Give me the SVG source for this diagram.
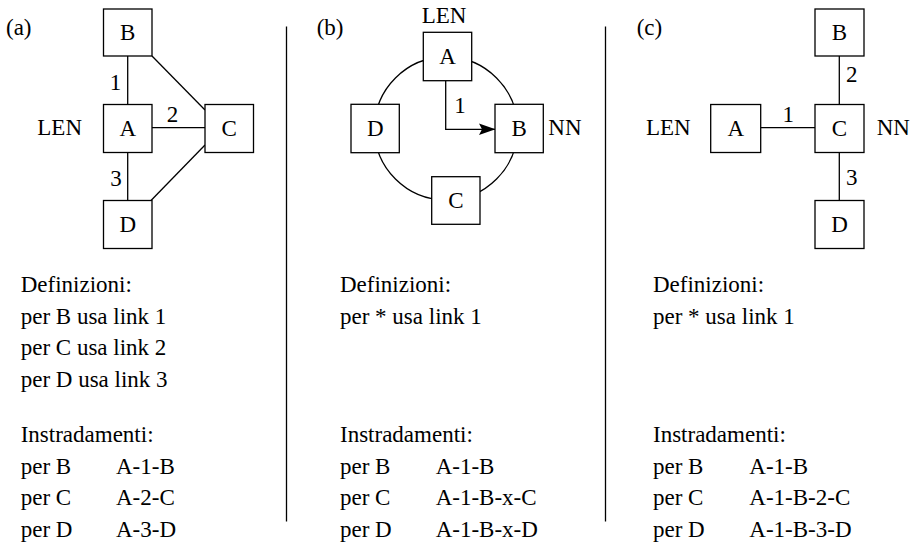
<svg xmlns="http://www.w3.org/2000/svg" width="917" height="543" viewBox="0 0 917 543">
<style>
text{font-family:"Liberation Serif","Times New Roman",serif;font-size:23px;fill:#000}
.c{text-anchor:middle}
.box{fill:#fff;stroke:#000;stroke-width:1.3}
.ln{fill:none;stroke:#000;stroke-width:1.3}
</style>
<defs>
<marker id="ah" markerWidth="18" markerHeight="12" refX="16" refY="6" orient="auto" markerUnits="userSpaceOnUse">
<path d="M0,0.3 L16.5,6 L0,11.7 L3,6 z" fill="#000"/>
</marker>
</defs>
<rect width="917" height="543" fill="#fff"/>
<g id="separators">
<line class="ln" x1="286.5" y1="26.5" x2="286.5" y2="521.5"/>
<line class="ln" x1="605.5" y1="26.5" x2="605.5" y2="521.5"/>
</g>
<!-- (a) -->
<g id="connectors-a">
<line class="ln" x1="127.7" y1="56" x2="127.7" y2="104.5"/>
<line class="ln" x1="127.7" y1="152.5" x2="127.7" y2="200.5"/>
<line class="ln" x1="152" y1="127.7" x2="205" y2="127.7"/>
<line class="ln" x1="152" y1="56" x2="205" y2="110"/>
<line class="ln" x1="205" y1="145" x2="151" y2="200.5"/>
<text class="c" x="115.5" y="90">1</text>
<text class="c" x="172.5" y="121.5">2</text>
<text class="c" x="116" y="186">3</text>
</g>
<text x="6" y="35">(a)</text>
<text x="37.3" y="135">LEN</text>
<g id="a-B"><rect class="box" x="103.5" y="9" width="48.5" height="47"/><text class="c" x="127.7" y="40">B</text></g>
<g id="a-A"><rect class="box" x="103.5" y="104.5" width="48.5" height="48"/><text class="c" x="127.7" y="136">A</text></g>
<g id="a-C"><rect class="box" x="205" y="104.5" width="48.5" height="48"/><text class="c" x="229.2" y="136">C</text></g>
<g id="a-D"><rect class="box" x="103.5" y="200.5" width="48.5" height="48"/><text class="c" x="127.7" y="232">D</text></g>
<g id="text-a">
<text x="20.7" y="292">Definizioni:</text>
<text x="20.7" y="323.5">per B usa link 1</text>
<text x="20.7" y="355">per C usa link 2</text>
<text x="20.7" y="386.5">per D usa link 3</text>
<text x="20.7" y="442">Instradamenti:</text>
<text x="20.7" y="473.5">per B</text><text x="116" y="473.5">A-1-B</text>
<text x="20.7" y="505">per C</text><text x="116" y="505">A-2-C</text>
<text x="20.7" y="536.5">per D</text><text x="116" y="536.5">A-3-D</text>
</g>
<!-- (b) -->
<g id="connectors-b">
<circle class="ln" cx="446" cy="128.5" r="71.5"/>
<path class="ln" d="M445.7,80.7 V129.3 H495" marker-end="url(#ah)"/>
<text class="c" x="460" y="113.3">1</text>
</g>
<text x="316.7" y="35">(b)</text>
<text x="421.7" y="22.7">LEN</text>
<text x="548.3" y="135">NN</text>
<g id="b-A"><rect class="box" x="423.3" y="32.3" width="48.4" height="48.4"/><text class="c" x="447.5" y="64">A</text></g>
<g id="b-D"><rect class="box" x="351" y="104.3" width="48.3" height="48.4"/><text class="c" x="375.2" y="136">D</text></g>
<g id="b-B"><rect class="box" x="495" y="104.3" width="48.3" height="48.4"/><text class="c" x="519.2" y="136">B</text></g>
<g id="b-C"><rect class="box" x="431.7" y="176.7" width="48.3" height="47.6"/><text class="c" x="455.8" y="208">C</text></g>
<g id="text-b">
<text x="340" y="292">Definizioni:</text>
<text x="340" y="323.5">per * usa link 1</text>
<text x="340" y="442">Instradamenti:</text>
<text x="340" y="473.5">per B</text><text x="435.7" y="473.5">A-1-B</text>
<text x="340" y="505">per C</text><text x="435.7" y="505">A-1-B-x-C</text>
<text x="340" y="536.5">per D</text><text x="435.7" y="536.5">A-1-B-x-D</text>
</g>
<!-- (c) -->
<g id="connectors-c">
<line class="ln" x1="760.7" y1="127.7" x2="815" y2="127.7"/>
<line class="ln" x1="839.3" y1="56" x2="839.3" y2="104.5"/>
<line class="ln" x1="839.3" y1="152.5" x2="839.3" y2="200.5"/>
<text class="c" x="788.3" y="121.7">1</text>
<text class="c" x="851.7" y="81.7">2</text>
<text class="c" x="851.7" y="185">3</text>
</g>
<text x="636.7" y="35">(c)</text>
<text x="646" y="135">LEN</text>
<text x="876.7" y="135">NN</text>
<g id="c-B"><rect class="box" x="815" y="9" width="49" height="47"/><text class="c" x="839.5" y="40">B</text></g>
<g id="c-C"><rect class="box" x="815" y="104.5" width="49" height="48"/><text class="c" x="839.5" y="136">C</text></g>
<g id="c-A"><rect class="box" x="710.7" y="104.5" width="50" height="48"/><text class="c" x="735.7" y="136">A</text></g>
<g id="c-D"><rect class="box" x="815" y="200.5" width="49" height="48"/><text class="c" x="839.5" y="232">D</text></g>
<g id="text-c">
<text x="653" y="292">Definizioni:</text>
<text x="653" y="323.5">per * usa link 1</text>
<text x="653" y="442">Instradamenti:</text>
<text x="653" y="473.5">per B</text><text x="749.3" y="473.5">A-1-B</text>
<text x="653" y="505">per C</text><text x="749.3" y="505">A-1-B-2-C</text>
<text x="653" y="536.5">per D</text><text x="749.3" y="536.5">A-1-B-3-D</text>
</g>
</svg>
